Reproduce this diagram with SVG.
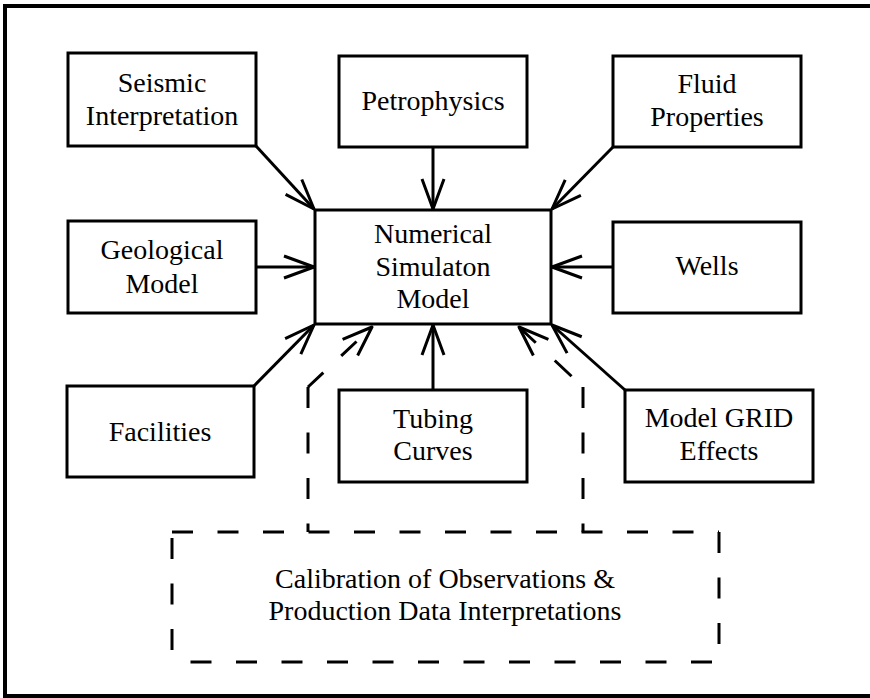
<svg xmlns="http://www.w3.org/2000/svg" width="870" height="698" viewBox="0 0 870 698">
<defs>
<style>
.box{fill:#fff;stroke:#000;stroke-width:3}
.t{font-family:"Liberation Serif","Times New Roman",serif;font-size:28px;fill:#000;text-anchor:middle}
.c{fill:none;stroke:#000;stroke-width:3}
.d{fill:none;stroke:#000;stroke-width:3;stroke-dasharray:21 24.5}
.h{fill:none;stroke:none}
</style>
<marker id="ah" markerUnits="userSpaceOnUse" viewBox="-34 -14 38 28" refX="0" refY="0" markerWidth="38" markerHeight="28" orient="auto" overflow="visible">
<path d="M-30,-11 L0,0 L-30,11" fill="none" stroke="#000" stroke-width="3" stroke-linejoin="round" stroke-dasharray="none"/>
</marker>
</defs>
<rect width="870" height="698" fill="#fff"/>
<rect x="5" y="6" width="868" height="690" fill="none" stroke="#000" stroke-width="4"/>

<g id="connectors">
<line class="c" x1="256" y1="146" x2="314" y2="209" marker-end="url(#ah)"/>
<line class="c" x1="433" y1="147" x2="433" y2="209" marker-end="url(#ah)"/>
<line class="c" x1="613" y1="147" x2="552" y2="209" marker-end="url(#ah)"/>
<line class="c" x1="256" y1="267" x2="314" y2="267" marker-end="url(#ah)"/>
<line class="c" x1="613" y1="267" x2="552" y2="267" marker-end="url(#ah)"/>
<line class="c" x1="254" y1="386" x2="314" y2="325" marker-end="url(#ah)"/>
<line class="c" x1="433" y1="390" x2="433" y2="325" marker-end="url(#ah)"/>
<line class="c" x1="625" y1="390" x2="552" y2="325" marker-end="url(#ah)"/>
<path class="d" d="M308,387 L372,327"/>
<path class="h" d="M308,387 L372,327" marker-end="url(#ah)"/>
<path class="d" d="M308,387 V532"/>
<path class="d" d="M519,327 L583,387" style="stroke-dasharray:23 26"/>
<path class="h" d="M583,387 L519,327" marker-end="url(#ah)"/>
<path class="d" d="M583,387 V532"/>
</g>

<g id="seismic">
<rect class="box" x="68" y="53" width="188" height="93"/>
<text class="t" x="162" y="92">Seismic</text>
<text class="t" x="162" y="125">Interpretation</text>
</g>
<g id="petrophysics">
<rect class="box" x="339" y="56" width="188" height="91"/>
<text class="t" x="433" y="110">Petrophysics</text>
</g>
<g id="fluid">
<rect class="box" x="613" y="56" width="188" height="91"/>
<text class="t" x="707" y="93">Fluid</text>
<text class="t" x="707" y="126">Properties</text>
</g>
<g id="geological">
<rect class="box" x="68" y="221" width="188" height="92"/>
<text class="t" x="162" y="259">Geological</text>
<text class="t" x="162" y="293">Model</text>
</g>
<g id="numerical">
<rect class="box" x="315" y="210" width="236" height="114"/>
<text class="t" x="433" y="243">Numerical</text>
<text class="t" x="433" y="276">Simulaton</text>
<text class="t" x="433" y="308">Model</text>
</g>
<g id="wells">
<rect class="box" x="613" y="222" width="188" height="91"/>
<text class="t" x="707" y="275">Wells</text>
</g>
<g id="facilities">
<rect class="box" x="67" y="386" width="187" height="91"/>
<text class="t" x="160" y="441">Facilities</text>
</g>
<g id="tubing">
<rect class="box" x="339" y="390" width="188" height="92"/>
<text class="t" x="433" y="428">Tubing</text>
<text class="t" x="433" y="460">Curves</text>
</g>
<g id="grid">
<rect class="box" x="625" y="390" width="188" height="92"/>
<text class="t" x="719" y="427">Model GRID</text>
<text class="t" x="719" y="460">Effects</text>
</g>
<g id="calibration">
<path class="d" d="M172,532 H719"/>
<path class="d" d="M719,532 V662"/>
<path class="d" d="M719,662 H172" style="stroke-dashoffset:38.5"/>
<path class="d" d="M172,662 V532" style="stroke-dashoffset:33.5"/>
<text class="t" x="445" y="588">Calibration of Observations &amp;</text>
<text class="t" x="445" y="620">Production Data Interpretations</text>
</g>
</svg>
